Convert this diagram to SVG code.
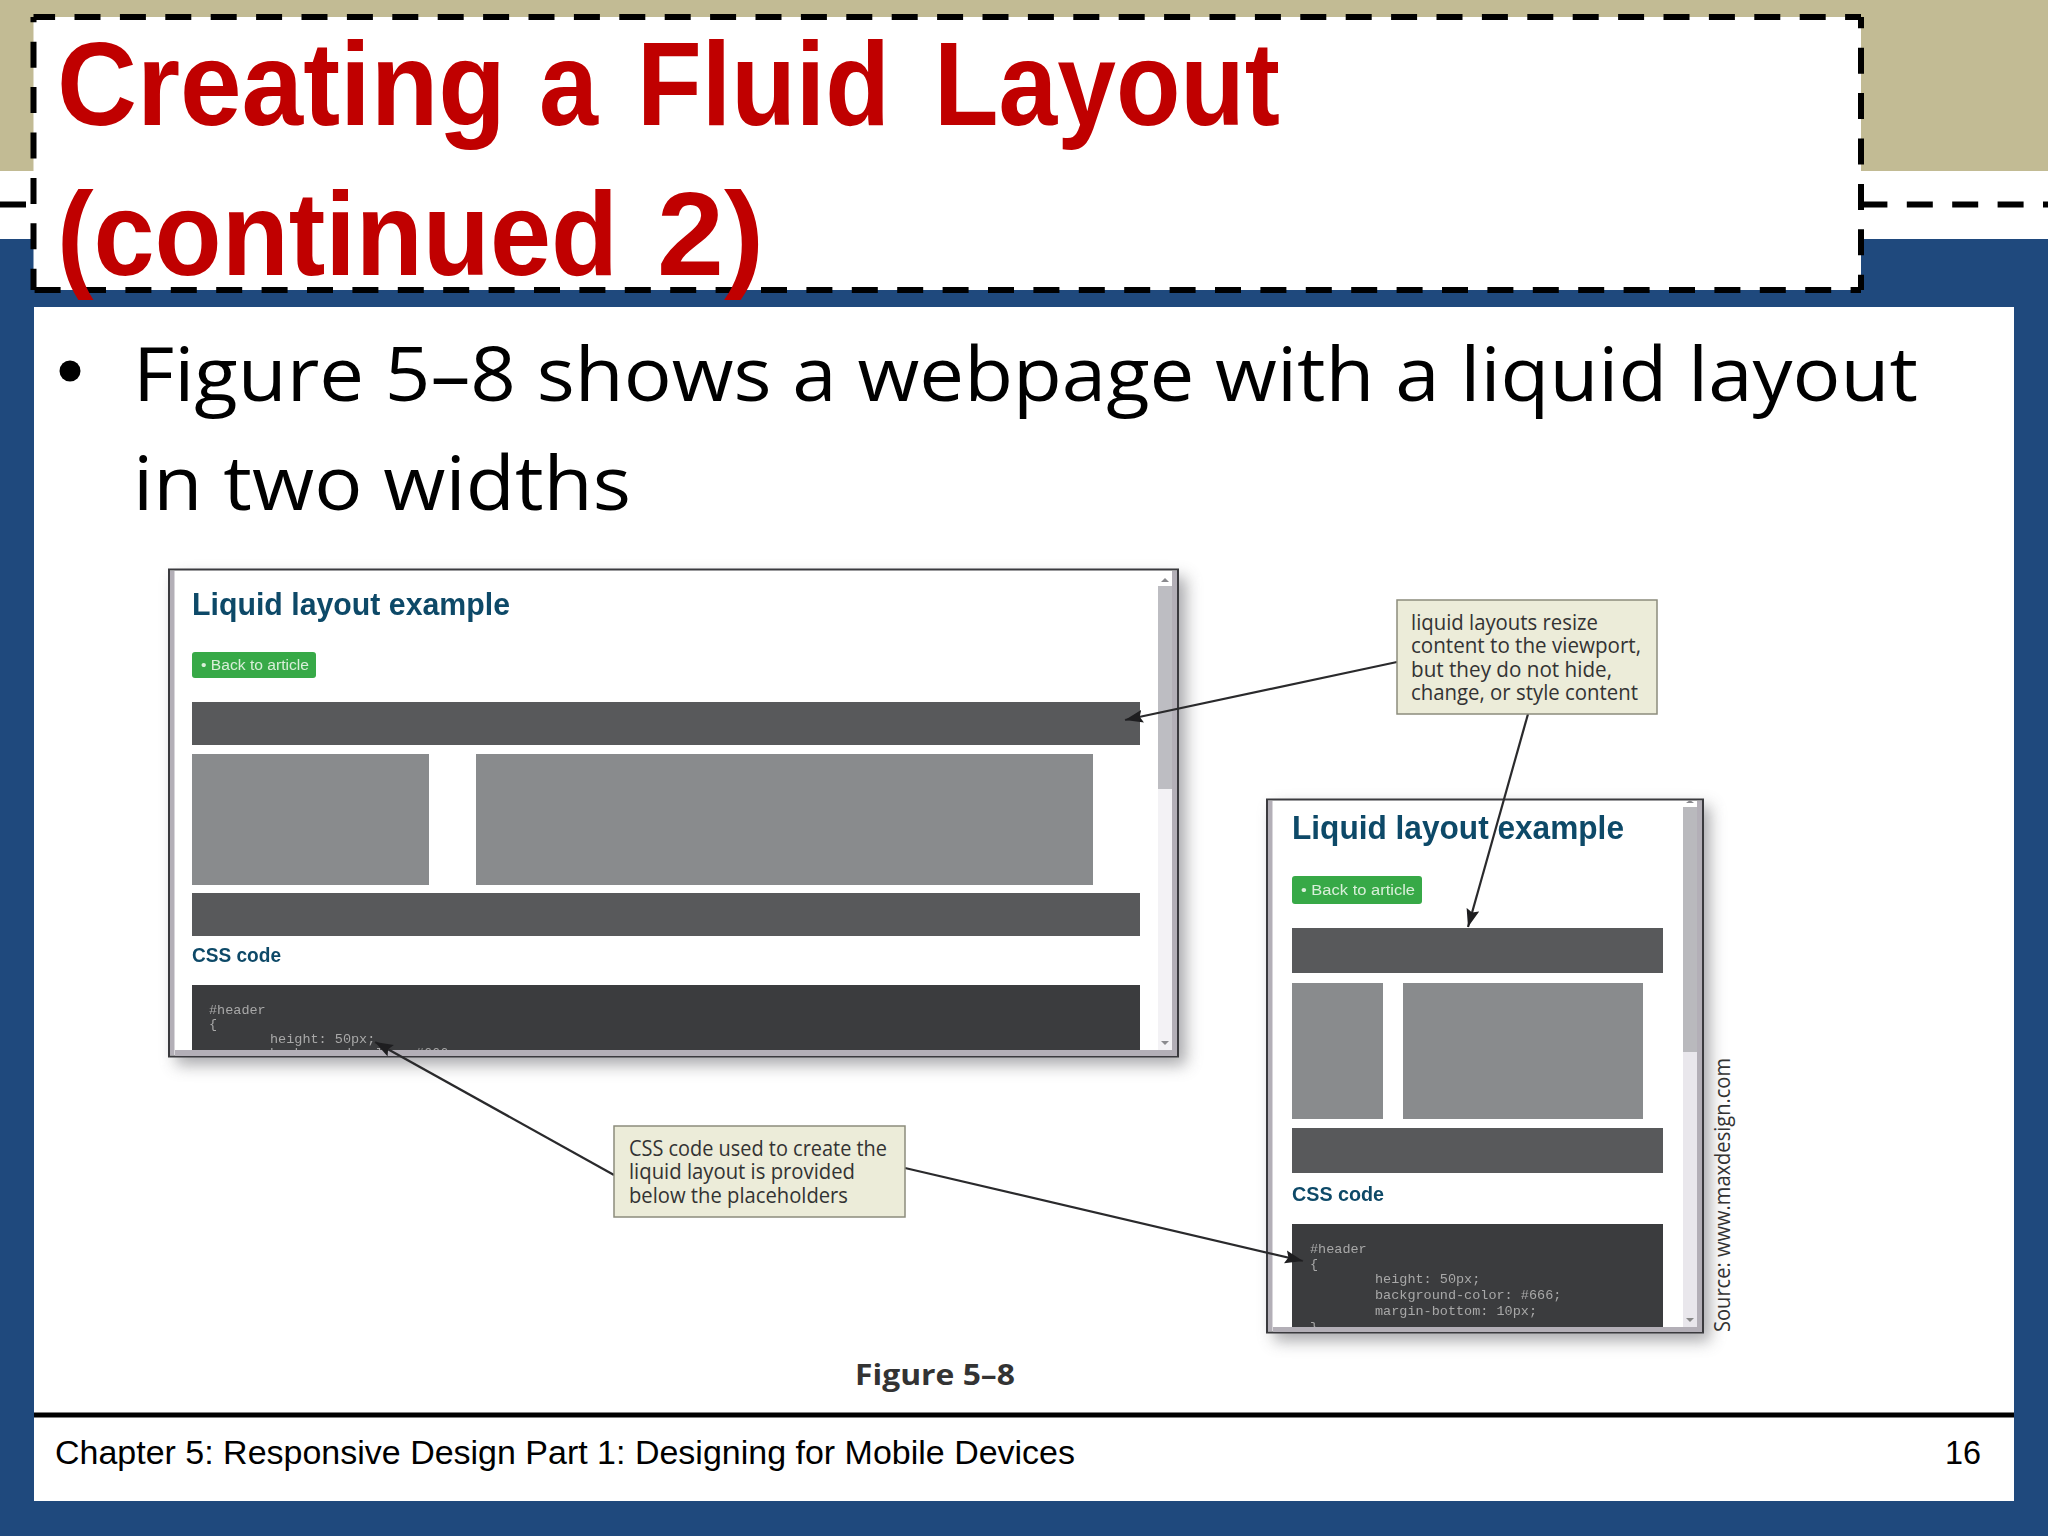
<svg xmlns="http://www.w3.org/2000/svg" width="2048" height="1536" viewBox="0 0 2048 1536">
<style>
.dash{fill:none;stroke:#000;stroke-width:6;stroke-dasharray:26 19.4}
.title{font-family:"Liberation Sans",Arial,sans-serif;font-weight:700;font-size:118px;fill:#C00000}
.body{font-family:"Open Sans","Noto Sans",sans-serif;font-size:75px;fill:#000}
.foot{font-family:"Liberation Sans",Arial,sans-serif;font-size:34px;fill:#000}
.frame{fill:#fff;stroke:#3a3a3e;stroke-width:2}
.strip{fill:#B3AFB7}
.h{font-family:"Liberation Sans",Arial,sans-serif;font-weight:700;fill:#114A68}
.btn{fill:#37A947}
.btxt{font-family:"Liberation Sans",Arial,sans-serif;font-size:14px;fill:#D9EFD9}
.dk{fill:#58595B}
.md{fill:#898B8D}
.cd{fill:#3B3C3E}
.code{font-family:"Liberation Mono",monospace;font-size:13.5px;fill:#A8A8A8}
.call{fill:#ECECD9;stroke:#8C8C7C;stroke-width:1.5}
.ct{font-family:"Open Sans","Noto Sans",sans-serif;font-size:22px;fill:#333}
.conn{fill:none;stroke:#2A2A2C;stroke-width:2.2;marker-end:url(#ah)}
</style>
<defs>
<marker id="ah" markerUnits="userSpaceOnUse" markerWidth="20" markerHeight="14" refX="18" refY="7" orient="auto"><path d="M0 0.500L18 7L0 13.500L3 7z" fill="#1E1E20"/></marker>
<filter id="sh" x="-10%" y="-10%" width="120%" height="120%"><feGaussianBlur stdDeviation="8"/></filter>
<filter id="soft" x="-5%" y="-20%" width="110%" height="140%"><feGaussianBlur stdDeviation="0.6"/></filter>
<filter id="mild" x="-5%" y="-20%" width="110%" height="140%"><feGaussianBlur stdDeviation="0.35"/></filter>
<clipPath id="c1"><rect x="192" y="985" width="948" height="65"/></clipPath>
<clipPath id="c2"><rect x="1292" y="1224" width="371" height="103"/></clipPath>
</defs>

<g id="background">
<rect width="2048" height="1536" fill="#1F497D"/>
<rect width="2048" height="171" fill="#C2BB94"/>
<rect y="171" width="2048" height="68" fill="#fff"/>
<rect x="34" y="307" width="1980" height="1194" fill="#fff"/>
<line x1="34" y1="1415" x2="2014" y2="1415" stroke="#000" stroke-width="5"/>
<line x1="0" y1="204.500" x2="2048" y2="204.500" class="dash"/>
</g>

<g id="title">
<rect x="33.500" y="17" width="1827.500" height="273" fill="#fff"/>
<line x1="33.500" y1="17" x2="1861" y2="17" class="dash" stroke-dashoffset="4.4"/>
<line x1="33.500" y1="290" x2="1861" y2="290" class="dash" stroke-dashoffset="44.3"/>
<line x1="33.500" y1="17" x2="33.500" y2="290" class="dash" stroke-dashoffset="20.7"/>
<line x1="1861" y1="17" x2="1861" y2="290" class="dash" stroke-dashoffset="14.7"/>
<text class="title" y="125"><tspan x="57" textLength="449" lengthAdjust="spacingAndGlyphs">Creating</tspan> <tspan x="539" textLength="59" lengthAdjust="spacingAndGlyphs">a</tspan> <tspan x="637" textLength="253" lengthAdjust="spacingAndGlyphs">Fluid</tspan> <tspan x="934" textLength="346" lengthAdjust="spacingAndGlyphs">Layout</tspan></text>
<text class="title" y="275"><tspan x="57" textLength="561" lengthAdjust="spacingAndGlyphs">(continued</tspan> <tspan x="657" textLength="107" lengthAdjust="spacingAndGlyphs">2)</tspan></text>
</g>

<g id="bullet">
<circle cx="70" cy="371" r="10.500" fill="#000"/>
<text class="body" x="133" y="401" textLength="1785" lengthAdjust="spacingAndGlyphs">Figure 5–8 shows a webpage with a liquid layout</text>
<text class="body" x="133" y="510" textLength="498" lengthAdjust="spacingAndGlyphs">in two widths</text>
</g>

<g id="screen-wide">
<rect x="176" y="577" width="1010" height="488" fill="#55555a" opacity=".5" filter="url(#sh)"/>
<rect class="frame" x="169" y="569.500" width="1009" height="487"/>
<rect class="strip" x="170" y="571" width="4.500" height="484"/>
<rect class="strip" x="175" y="1050" width="1002" height="6"/>
<rect class="strip" x="1172" y="571" width="5" height="484"/>
<rect x="1158" y="789" width="14" height="261" fill="#F3F2F5"/>
<rect x="1158" y="586" width="14" height="203" fill="#BDBDC2"/>
<path d="M1161 582l4-4 4 4z" fill="#8A8A8E"/>
<path d="M1161 1041h8l-4 4z" fill="#8A8A8E"/>
<g filter="url(#mild)"><text class="h" x="192" y="615" font-size="31" textLength="318" lengthAdjust="spacingAndGlyphs">Liquid layout example</text></g>
<rect class="btn" x="192" y="652" width="124" height="26" rx="3"/>
<g filter="url(#soft)"><text class="btxt" x="201" y="670" textLength="108" lengthAdjust="spacingAndGlyphs">• Back to article</text></g>
<rect class="dk" x="192" y="702" width="948" height="43"/>
<rect class="md" x="192" y="754" width="237" height="131"/>
<rect class="md" x="476" y="754" width="617" height="131"/>
<rect class="dk" x="192" y="893" width="948" height="43"/>
<g filter="url(#mild)"><text class="h" x="192" y="962" font-size="20" textLength="89" lengthAdjust="spacingAndGlyphs">CSS code</text></g>
<rect class="cd" x="192" y="985" width="948" height="65"/>
<g clip-path="url(#c1)"><g filter="url(#soft)">
<text class="code" x="209" y="1014">#header</text>
<text class="code" x="209" y="1028">{</text>
<text class="code" x="270" y="1043">height: 50px;</text>
<text class="code" x="270" y="1057">background-color: #666;</text>
</g></g>
</g>

<g id="screen-narrow">
<rect x="1274" y="806" width="436" height="535" fill="#55555a" opacity=".5" filter="url(#sh)"/>
<rect class="frame" x="1267" y="799.500" width="436" height="533"/>
<rect class="strip" x="1268" y="801" width="4.500" height="530"/>
<rect class="strip" x="1273" y="1327" width="429" height="5"/>
<rect class="strip" x="1697" y="801" width="5" height="530"/>
<rect x="1683" y="1052" width="14" height="275" fill="#E9E7EC"/>
<rect x="1683" y="807" width="14" height="245" fill="#B9B9BD"/>
<path d="M1686 803l4-3 4 3z" fill="#8A8A8E"/>
<path d="M1686 1318h8l-4 4z" fill="#888"/>
<g filter="url(#mild)"><text class="h" x="1292" y="839" font-size="33" textLength="332" lengthAdjust="spacingAndGlyphs">Liquid layout example</text></g>
<rect class="btn" x="1292" y="876" width="130" height="28" rx="3"/>
<g filter="url(#soft)"><text class="btxt" x="1301" y="895" textLength="114" lengthAdjust="spacingAndGlyphs">• Back to article</text></g>
<rect class="dk" x="1292" y="928" width="371" height="45"/>
<rect class="md" x="1292" y="983" width="91" height="136"/>
<rect class="md" x="1403" y="983" width="240" height="136"/>
<rect class="dk" x="1292" y="1128" width="371" height="45"/>
<g filter="url(#mild)"><text class="h" x="1292" y="1201" font-size="21" textLength="92" lengthAdjust="spacingAndGlyphs">CSS code</text></g>
<rect class="cd" x="1292" y="1224" width="371" height="103"/>
<g clip-path="url(#c2)"><g filter="url(#soft)">
<text class="code" x="1310" y="1253">#header</text>
<text class="code" x="1310" y="1268">{</text>
<text class="code" x="1375" y="1283">height: 50px;</text>
<text class="code" x="1375" y="1299">background-color: #666;</text>
<text class="code" x="1375" y="1315">margin-bottom: 10px;</text>
<text class="code" x="1310" y="1331">}</text>
</g></g>
</g>

<g id="connectors">
<line class="conn" x1="1397" y1="662" x2="1125" y2="720"/>
<line class="conn" x1="1528" y1="714" x2="1468" y2="927"/>
<line class="conn" x1="614" y1="1175" x2="375" y2="1042"/>
<line class="conn" x1="905" y1="1168" x2="1303" y2="1261"/>
</g>

<g id="callout-liquid">
<rect class="call" x="1397" y="600" width="260" height="114"/>
<text class="ct" x="1411" y="630" textLength="187" lengthAdjust="spacingAndGlyphs">liquid layouts resize</text>
<text class="ct" x="1411" y="653" textLength="230" lengthAdjust="spacingAndGlyphs">content to the viewport,</text>
<text class="ct" x="1411" y="677" textLength="201" lengthAdjust="spacingAndGlyphs">but they do not hide,</text>
<text class="ct" x="1411" y="700" textLength="227" lengthAdjust="spacingAndGlyphs">change, or style content</text>
</g>

<g id="callout-css">
<rect class="call" x="614" y="1126" width="291" height="91"/>
<text class="ct" x="629" y="1156" textLength="258" lengthAdjust="spacingAndGlyphs">CSS code used to create the</text>
<text class="ct" x="629" y="1179" textLength="226" lengthAdjust="spacingAndGlyphs">liquid layout is provided</text>
<text class="ct" x="629" y="1203" textLength="219" lengthAdjust="spacingAndGlyphs">below the placeholders</text>
</g>

<g id="source">
<text class="ct" transform="translate(1730 1332) rotate(-90)" font-size="21" textLength="274" lengthAdjust="spacingAndGlyphs">Source: www.maxdesign.com</text>
</g>

<g id="caption">
<text x="855" y="1385" font-family="Open Sans,Noto Sans,sans-serif" font-weight="700" font-size="29" fill="#333" textLength="160" lengthAdjust="spacingAndGlyphs">Figure 5–8</text>
</g>

<g id="footer">
<text class="foot" x="55" y="1464" textLength="1020" lengthAdjust="spacingAndGlyphs">Chapter 5: Responsive Design Part 1: Designing for Mobile Devices</text>
<text class="foot" x="1945" y="1464" textLength="36" lengthAdjust="spacingAndGlyphs">16</text>
</g>
</svg>
